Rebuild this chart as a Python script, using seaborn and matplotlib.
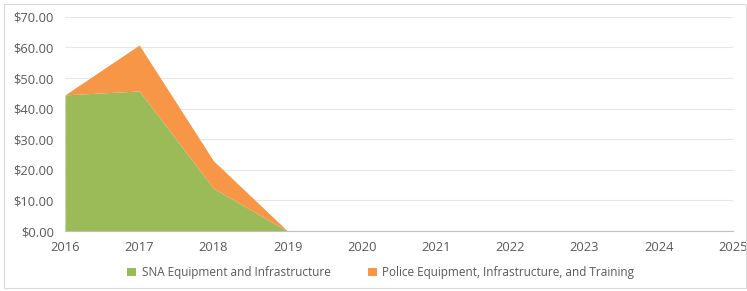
import numpy as np
import matplotlib.pyplot as plt
import seaborn as sns
from matplotlib.patches import Rectangle

# data
years = [2016, 2017, 2018, 2019]
sna = [44.5, 45.8, 14.0, 0.0]
police = [0.0, 15.0, 9.0, 0.0]
labels = ["SNA Equipment and Infrastructure",
          "Police Equipment, Infrastructure, and Training"]
x_ticks = list(range(2016, 2026))
y_ticks = [0, 10, 20, 30, 40, 50, 60, 70]

sns.set_theme(style="white")
plt.rcParams['font.family'] = ['Open Sans', 'DejaVu Sans']
colors = ["#9BBB59", "#F79646"]

fig = plt.figure(figsize=(7.47, 2.91), dpi=100)
ax = fig.add_axes([0.087, 0.206, 0.894, 0.736])

ax.stackplot(years, sna, police, colors=colors, labels=labels, linewidth=0)

ax.set_xlim(2016, 2025)
ax.set_ylim(0, 70)
ax.set_xticks(x_ticks)
ax.set_yticks(y_ticks)
ax.set_yticklabels([f"${v:.2f}" for v in y_ticks])
ax.tick_params(axis='both', labelsize=9.3, colors="#595959", length=0)
ax.tick_params(axis='y', pad=8)
ax.tick_params(axis='x', length=4, color="#BFBFBF", direction='out', pad=3)
ax.grid(axis='y', color="#E6E6E6", linewidth=0.8)
ax.set_axisbelow(True)
for s in ["top", "right", "left"]:
    ax.spines[s].set_visible(False)
ax.spines["bottom"].set_color("#BFBFBF")
ax.spines["bottom"].set_linewidth(0.8)

fig.legend(*ax.get_legend_handles_labels(), loc="center",
           bbox_to_anchor=(0.51, 0.062), ncol=2, frameon=False,
           fontsize=8.5, handlelength=0.7, handleheight=0.7, columnspacing=3.2,
           labelcolor="#595959", handletextpad=0.5)

# outer chart border
fig.patches.append(Rectangle((0.005, 0.01), 0.993, 0.975, transform=fig.transFigure,
                             fill=False, edgecolor="#D9D9D9", linewidth=0.8))

fig.savefig("out.png", dpi=100)
